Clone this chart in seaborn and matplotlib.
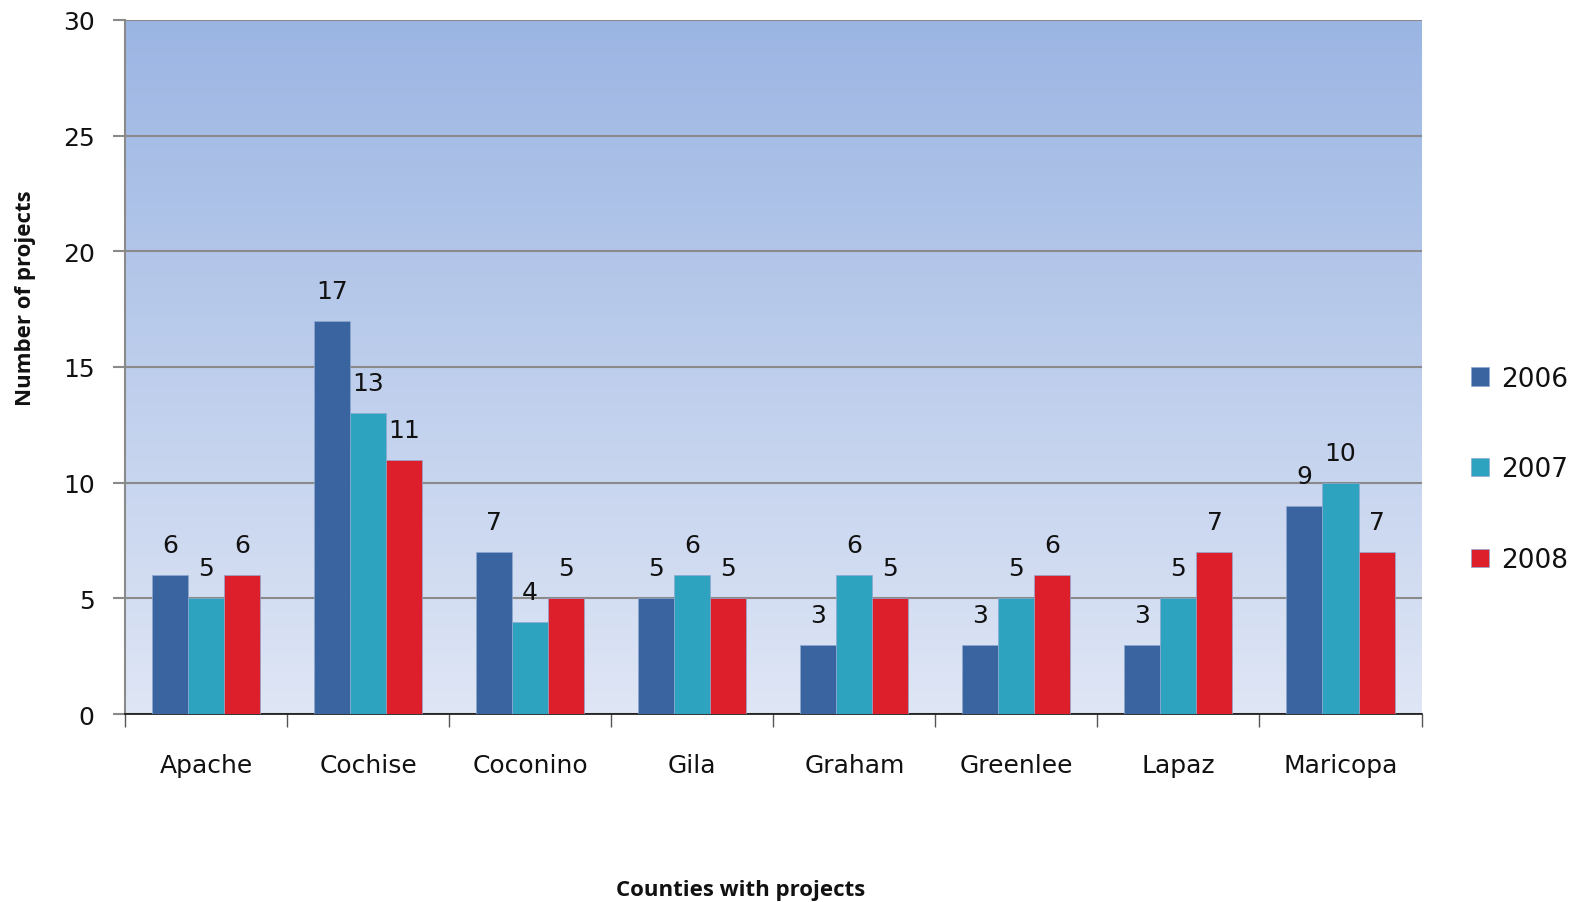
import numpy as np
import pandas as pd
import matplotlib
matplotlib.use("Agg")
import matplotlib.pyplot as plt
from matplotlib.colors import LinearSegmentedColormap
import seaborn as sns

counties = ["Apache", "Cochise", "Coconino", "Gila", "Graham", "Greenlee", "Lapaz", "Maricopa"]
years = ["2006", "2007", "2008"]
projects_2006 = [6, 17, 7, 5, 3, 3, 3, 9]
projects_2007 = [5, 13, 4, 6, 6, 5, 5, 10]
projects_2008 = [6, 11, 5, 5, 5, 6, 7, 7]
y_ticks = [0, 5, 10, 15, 20, 25, 30]

colors = ["#3A64A0", "#2DA3BF", "#DC1F2A"]

df = pd.DataFrame({
    "County": counties * 3,
    "Year": [y for y in years for _ in counties],
    "Projects": projects_2006 + projects_2007 + projects_2008,
})

sns.set_theme(style="white")
plt.rcParams["font.family"] = ["DejaVu Sans"]

fig = plt.figure(figsize=(15.83, 9.03), dpi=100)
ax = fig.add_axes([0.079, 0.208, 0.819, 0.769])

# gradient plot-area background
grad = LinearSegmentedColormap.from_list("bg", ["#DFE6F5", "#9BB5E3"])
ax.imshow(np.linspace(0, 1, 256).reshape(-1, 1), cmap=grad, aspect="auto",
          extent=(-0.5, len(counties) - 0.5, 0, 30), origin="lower", zorder=0)

sns.barplot(data=df, x="County", y="Projects", hue="Year", palette=colors,
            width=0.667, ax=ax, zorder=3, edgecolor="#8FA8D0", linewidth=0.5,
            saturation=1, legend=True)

for cont in ax.containers:
    ax.bar_label(cont, fmt="%d", padding=13, fontsize=18, color="#111111")

ax.set_xlim(-0.5, len(counties) - 0.5)
ax.set_ylim(0, 30)
ax.set_yticks(y_ticks)
ax.yaxis.grid(True, color="#8A8A8A", linewidth=1.5, zorder=1)
ax.set_axisbelow(True)

# category boundary ticks below the axis
ax.set_xticks(np.arange(-0.5, len(counties) + 0.5, 1), minor=True)
ax.tick_params(axis="x", which="minor", length=9, width=1, color="#555555", direction="out", bottom=True)
ax.tick_params(axis="x", which="major", length=0, pad=28, labelsize=18, labelcolor="#111111")
ax.tick_params(axis="y", which="major", length=9, width=1.5, color="#8A8A8A", direction="out", left=True,
               pad=13, labelsize=18, labelcolor="#111111")

for s in ["top", "right"]:
    ax.spines[s].set_visible(False)
ax.spines["left"].set_color("#8A8A8A")
ax.spines["left"].set_linewidth(1.5)
ax.spines["bottom"].set_color("#111111")
ax.spines["bottom"].set_linewidth(1.2)

ax.set_xlabel("")
ax.set_ylabel("Number of projects", fontsize=16, fontweight="bold", family="Open Sans", color="#111111")
ax.yaxis.set_label_coords(-0.069, 0.6)
fig.text(0.468, 0.008, "Counties with projects", fontsize=16, fontweight="bold",
         family="Open Sans", ha="center", color="#111111")

handles, labels = ax.get_legend_handles_labels()
ax.legend_.remove()
fig.legend(handles, labels, loc="center left", bbox_to_anchor=(0.914, 0.479),
           frameon=False, fontsize=19, handlelength=0.7, handleheight=0.7,
           handletextpad=0.45, labelspacing=2.45, labelcolor="#111111")

fig.savefig("out.png", dpi=100)
